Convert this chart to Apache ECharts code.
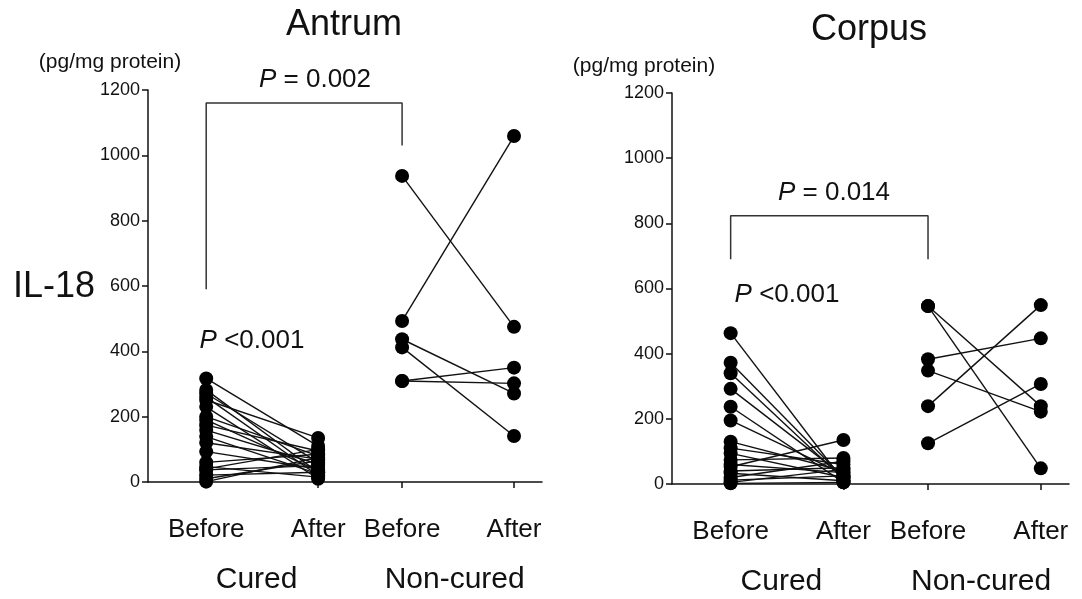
<!DOCTYPE html>
<html>
<head>
<meta charset="utf-8">
<script src="https://cdn.jsdelivr.net/npm/echarts@6/dist/echarts.min.js"></script>
<style>
  html, body { margin: 0; padding: 0; background: #fff; }
  #chart { width: 1082px; height: 599px; }
</style>
</head>
<body>
<div id="chart"></div>
<script>
// x positions of the four columns and the two group centres
const xPos = [1, 2, 2.75, 3.75];
const xNames = ['Before', 'After', 'Before', 'After'];
const groupPos = [1.45, 3.22];
const groupNames = ['Cured', 'Non-cured'];

// Antrum (pg/mg protein), paired before/after per patient
const antrumCuredBefore = [317, 282, 271, 260, 251, 230, 200, 190, 174, 159, 139, 120, 93, 60, 47, 40, 37, 21, 10, 1];
const antrumCuredAfter  = [110, 30, 60, 20, 135, 10, 80, 35, 95, 55, 25, 70, 40, 85, 15, 100, 50, 30, 65, 75];
const antrumNonBefore = [937, 493, 437, 412, 309, 309];
const antrumNonAfter  = [475, 1059, 271, 141, 350, 302];

// Corpus
const corpusCuredBefore = [463, 372, 340, 292, 237, 195, 130, 110, 94, 74, 60, 53, 40, 33, 20, 12, 5, 2];
const corpusCuredAfter  = [10, 20, 15, 25, 5, 30, 40, 60, 20, 80, 35, 135, 50, 10, 70, 25, 45, 5];
const corpusNonBefore = [546, 546, 383, 348, 239, 125];
const corpusNonAfter  = [239, 48, 447, 222, 549, 307];

// significance brackets: [x, y] in data units
const antrumBracket = [[1, 590], [1, 1160], [2.75, 1160], [2.75, 1030]];
const corpusBracket = [[1, 690], [1, 823], [2.75, 823], [2.75, 690]];

const chart = echarts.init(document.getElementById('chart'));
const font = 'Liberation Sans, Arial, sans-serif';
const ink = '#111';

function pairs(before, after, xb, xa) {
  return before.map((b, i) => ({ coords: [[xb, b], [xa, after[i]]] }));
}
function dots(before, after, xb, xa) {
  return before.map(b => [xb, b]).concat(after.map(a => [xa, a]));
}

function panelSeries(idx, cb, ca, nb, na, bracket) {
  const ax = { xAxisIndex: idx * 2, yAxisIndex: idx };
  return [
    Object.assign({
      type: 'lines', coordinateSystem: 'cartesian2d', silent: true,
      lineStyle: { color: ink, width: 1.4, opacity: 1 },
      data: pairs(cb, ca, xPos[0], xPos[1]).concat(pairs(nb, na, xPos[2], xPos[3]))
    }, ax),
    Object.assign({
      type: 'line', data: bracket, symbol: 'none', silent: true,
      lineStyle: { color: '#333', width: 1.5 }
    }, ax),
    Object.assign({
      type: 'scatter', symbolSize: 14, z: 5,
      itemStyle: { color: '#000', opacity: 1 },
      data: dots(cb, ca, xPos[0], xPos[1]).concat(dots(nb, na, xPos[2], xPos[3]))
    }, ax)
  ];
}

function xAxes(gi) {
  return [
    {
      type: 'value', gridIndex: gi, min: 0.48, max: 4.0,
      axisLine: { lineStyle: { color: ink, width: 1.5 } },
      splitLine: { show: false },
      axisTick: { show: true, inside: false, length: 6, customValues: xPos, lineStyle: { color: ink, width: 1.5 } },
      axisLabel: {
        customValues: xPos, margin: 35, color: ink, fontSize: 26, fontFamily: font,
        formatter: v => xNames[xPos.indexOf(v)]
      }
    },
    {
      type: 'value', gridIndex: gi, min: 0.48, max: 4.0, position: 'bottom',
      axisLine: { show: false }, axisTick: { show: false }, splitLine: { show: false },
      axisLabel: {
        customValues: groupPos, margin: 83, color: ink, fontSize: 30, fontFamily: font,
        formatter: v => groupNames[groupPos.indexOf(v)]
      }
    }
  ];
}

function yAxis(gi) {
  return {
    type: 'value', gridIndex: gi, min: 0, max: 1200, interval: 200,
    axisLine: { show: true, lineStyle: { color: ink, width: 1.5 } },
    axisTick: { show: true, length: 6, lineStyle: { color: ink, width: 1.5 } },
    splitLine: { show: false },
    axisLabel: { color: ink, fontSize: 18, fontFamily: font, margin: 8, formatter: v => String(v) }
  };
}

function txt(x, y, text, size, rich) {
  return {
    type: 'text', x: x, y: y, silent: true,
    style: {
      text: text, fontSize: size, fontFamily: font, fill: ink,
      align: 'center', verticalAlign: 'middle', rich: rich
    }
  };
}
const pRich = size => ({
  i: { fontStyle: 'italic', fontSize: size, fontFamily: font, fill: ink }
});

const option = {
  backgroundColor: '#fff',
  animation: false,
  grid: [
    { left: 148, right: 540, top: 90, bottom: 117 },
    { left: 672, right: 13, top: 93, bottom: 115 }
  ],
  xAxis: xAxes(0).concat(xAxes(1)),
  yAxis: [yAxis(0), yAxis(1)],
  series: panelSeries(0, antrumCuredBefore, antrumCuredAfter, antrumNonBefore, antrumNonAfter, antrumBracket)
    .concat(panelSeries(1, corpusCuredBefore, corpusCuredAfter, corpusNonBefore, corpusNonAfter, corpusBracket)),
  graphic: [
    txt(344, 25, 'Antrum', 36),
    txt(869, 30, 'Corpus', 36),
    txt(110, 62, '(pg/mg protein)', 21),
    txt(644, 66, '(pg/mg protein)', 21),
    txt(54, 287, 'IL-18', 36),
    txt(315, 80, '{i|P} = 0.002', 26, pRich(26)),
    txt(252, 341, '{i|P} <0.001', 26, pRich(26)),
    txt(834, 193, '{i|P} = 0.014', 26, pRich(26)),
    txt(787, 295, '{i|P} <0.001', 26, pRich(26))
  ]
};

chart.setOption(option);
</script>
</body>
</html>
